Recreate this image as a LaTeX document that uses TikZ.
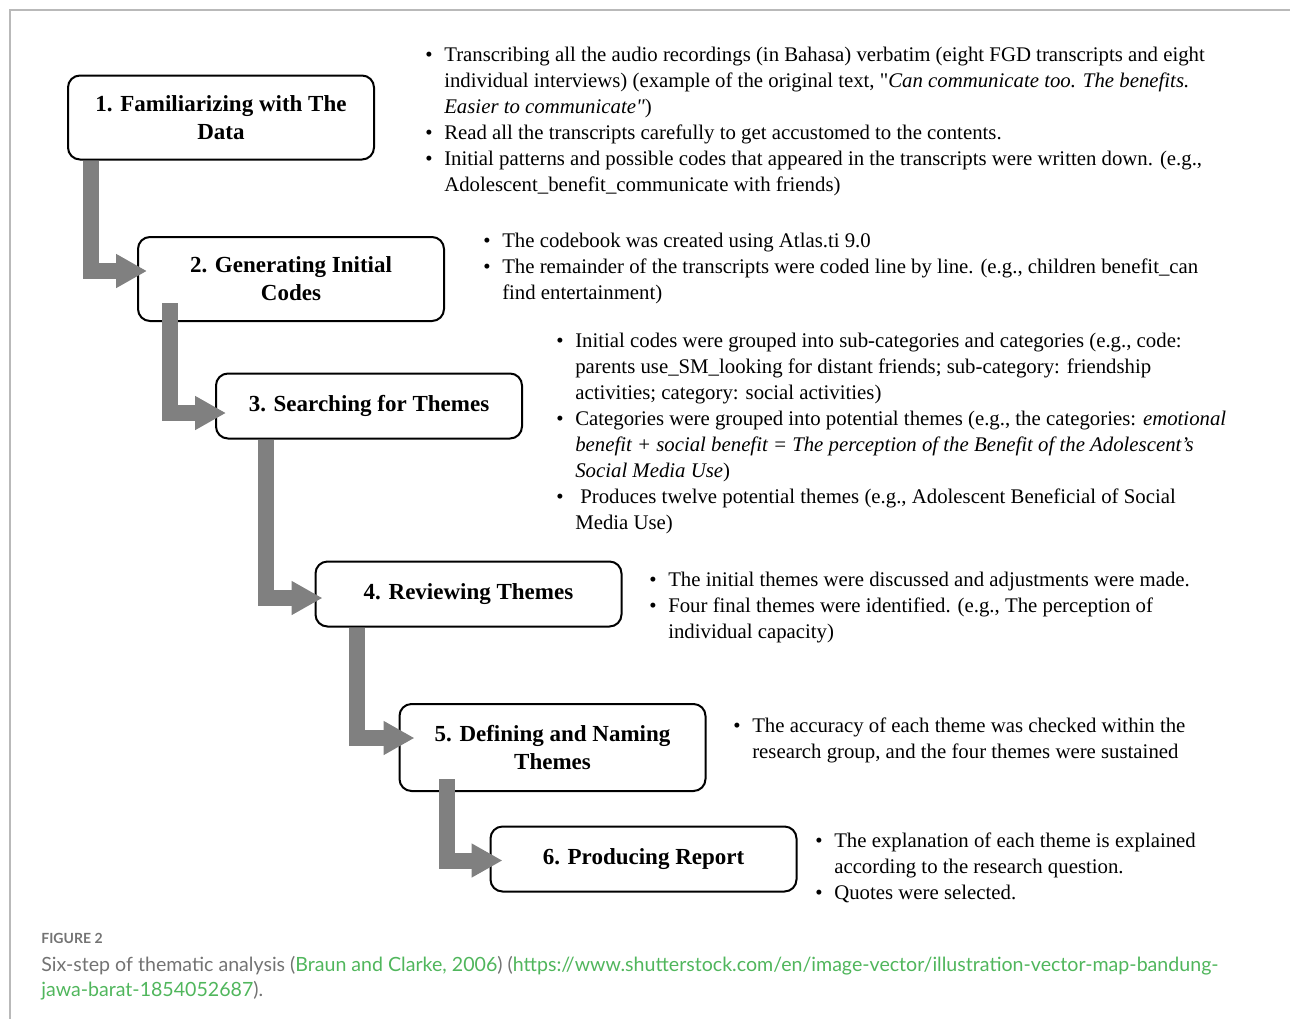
\documentclass[tikz,border=0pt]{standalone}
\usepackage{fontspec}
\setmainfont{Liberation Serif}
\newfontfamily\capfont{Lato}
\usetikzlibrary{arrows.meta,calc,positioning}
\definecolor{flowgray}{RGB}{128,128,128}
\definecolor{framegray}{RGB}{185,185,185}
\definecolor{captext}{RGB}{115,115,115}
\definecolor{capgreen}{RGB}{80,182,92}
\tikzset{
  stepbox/.style={draw,line width=1pt,rounded corners=6pt,minimum width=153pt,
    minimum height=32.5pt,align=center,inner sep=2pt,
    font=\fontsize{11.5}{14}\selectfont\bfseries},
  tallbox/.style={minimum height=42pt},
  flow arrow/.style={draw=flowgray,line width=8pt,line cap=butt,line join=miter,
    -{Triangle[length=15.5pt,width=16pt]}},
  note/.style={anchor=north west,inner sep=0pt,font=\fontsize{10.4}{13}\selectfont},
  caption text/.style={anchor=north west,inner sep=0pt,align=left,text=captext,
    font=\capfont\fontsize{9.8}{12.5}\selectfont}
}
\newcommand{\Bul}{\textbullet}

\begin{document}
\begin{tikzpicture}[x=0.5pt,y=-0.5pt]
  \useasboundingbox (0,0) rectangle (1290,1019);
  % panel frame
  \draw[framegray,line width=0.75pt] (1290,10) -- (10,10) -- (10,1019);

  % the six steps
  \node[stepbox,tallbox] (s1) at (221,117.5) {1. Familiarizing with The\\Data};
  \node[stepbox,tallbox] (s2) at (291,279) {2. Generating Initial\\Codes};
  \node[stepbox] (s3) at (369,406) {3. Searching for Themes};
  \node[stepbox] (s4) at (468.5,594) {4. Reviewing Themes};
  \node[stepbox,minimum height=43.5pt] (s5) at (552.5,747.5) {5. Defining and Naming\\Themes};
  \node[stepbox] (s6) at (643.5,859) {6. Producing Report};

  \draw[flow arrow] ($(s1.south west)+(24,0)$) |- ($(s2.west)+(10,-8)$);
  \draw[flow arrow] ($(s2.south west)+(32.5,-19)$) |- ($(s3.west)+(11,7)$);
  \draw[flow arrow] ($(s3.south west)+(50.5,0)$) |- ($(s4.west)+(8,4)$);
  \draw[flow arrow] ($(s4.south west)+(42,0)$) |- ($(s5.west)+(16,-9.5)$);
  \draw[flow arrow] ($(s5.south west)+(48.5,-13)$) |- ($(s6.west)+(13,1.5)$);

  % notes beside each step
  \node[note] (n1) at (425,43) {\begin{tabular}{@{}l@{\hspace{5.8pt}}l@{}}
    \Bul & Transcribing all the audio recordings (in Bahasa) verbatim (eight FGD transcripts and eight\\
         & individual interviews) (example of the original text, \textquotedbl\textit{Can communicate too. The benefits.}\\
         & \textit{Easier to communicate\textquotedbl})\\
    \Bul & Read all the transcripts carefully to get accustomed to the contents.\\
    \Bul & Initial patterns and possible codes that appeared in the transcripts were written down. (e.g.,\\
         & Adolescent\_benefit\_communicate with friends)
  \end{tabular}};
  \node[note] (n2) at (483,229) {\begin{tabular}{@{}l@{\hspace{5.8pt}}l@{}}
    \Bul & The codebook was created using Atlas.ti 9.0\\
    \Bul & The remainder of the transcripts were coded line by line. (e.g., children benefit\_can\\
         & find entertainment)
  \end{tabular}};
  \node[note] (n3) at (556,329) {\begin{tabular}{@{}l@{\hspace{5.8pt}}l@{}}
    \Bul & Initial codes were grouped into sub-categories and categories (e.g., code:\\
         & parents use\_SM\_looking for distant friends; sub-category: friendship\\
         & activities; category: social activities)\\
    \Bul & Categories were grouped into potential themes (e.g., the categories: \textit{emotional}\\
         & \textit{benefit + social benefit = The perception of the Benefit of the Adolescent's}\\
         & \textit{Social Media Use})\\
    \Bul & \hspace{2.5pt}Produces twelve potential themes (e.g., Adolescent Beneficial of Social\\
         & Media Use)
  \end{tabular}};
  \node[note] (n4) at (649,568) {\begin{tabular}{@{}l@{\hspace{5.8pt}}l@{}}
    \Bul & The initial themes were discussed and adjustments were made.\\
    \Bul & Four final themes were identified. (e.g., The perception of\\
         & individual capacity)
  \end{tabular}};
  \node[note] (n5) at (733,714) {\begin{tabular}{@{}l@{\hspace{5.8pt}}l@{}}
    \Bul & The accuracy of each theme was checked within the\\
         & research group, and the four themes were sustained
  \end{tabular}};
  \node[note] (n6) at (815,829) {\begin{tabular}{@{}l@{\hspace{5.8pt}}l@{}}
    \Bul & The explanation of each theme is explained\\
         & according to the research question.\\
    \Bul & Quotes were selected.
  \end{tabular}};

  % caption
  \node[anchor=west,inner sep=0pt,text=captext,font=\capfont\bfseries\fontsize{7}{8}\selectfont]
    (figlabel) at (41,938) {FIGURE 2};
  \node[caption text] (caption) at (41,956)
    {Six-step of thematic analysis (\textcolor{capgreen}{Braun and Clarke, 2006}) (\textcolor{capgreen}{https://www.shutterstock.com/en/image-vector/illustration-vector-map-bandung-}\\
     \textcolor{capgreen}{jawa-barat-1854052687}).};
\end{tikzpicture}
\end{document}
